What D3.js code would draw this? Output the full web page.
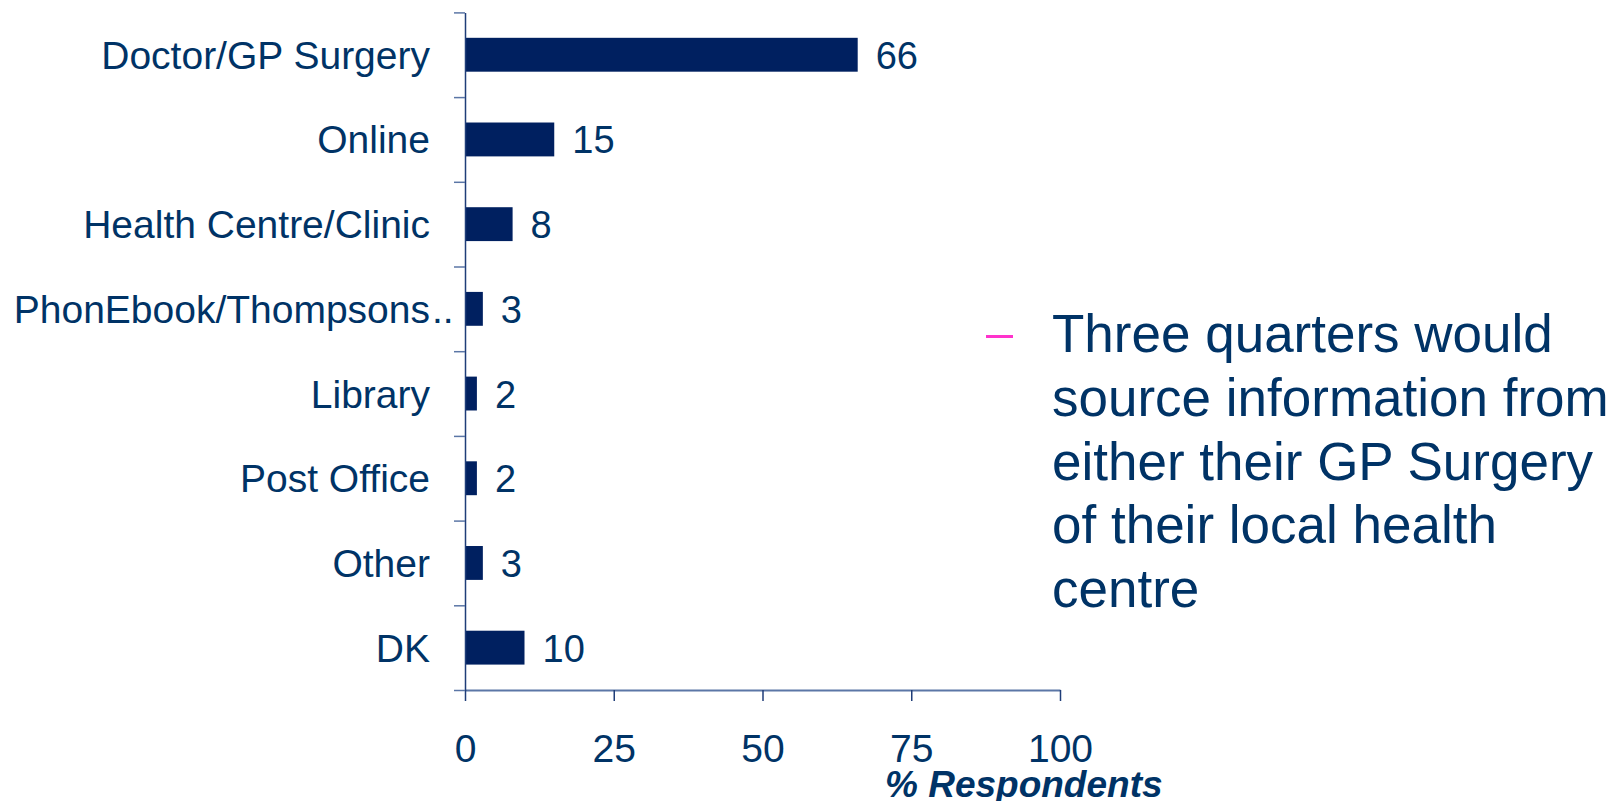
<!DOCTYPE html>
<html>
<head>
<meta charset="utf-8">
<script src="https://cdn.jsdelivr.net/npm/d3@7"></script>
<style>
  html, body { margin: 0; padding: 0; background: #ffffff; }
  svg { display: block; font-family: "Liberation Sans", Arial, sans-serif; }
</style>
</head>
<body>
<svg id="chart" width="1614" height="801"></svg>
<script>
// Where respondents would look for information (% of respondents)
const categories = [
  "Doctor/GP Surgery",
  "Online",
  "Health Centre/Clinic",
  "PhonEbook/Thompsons..",
  "Library",
  "Post Office",
  "Other",
  "DK"
];
const values = [66, 15, 8, 3, 2, 2, 3, 10];
const xTicks = [0, 25, 50, 75, 100];
const axisTitle = "% Respondents";
const noteLines = [
  "Three quarters would",
  "source information from",
  "either their GP Surgery",
  "of their local health",
  "centre"
];

const barColor = "#002060";
const textColor = "#003366";
const yAxisColor = "#1f3d78";
const xAxisColor = "#5b76a6";

const svg = d3.select("#chart");
const plotLeft = 465, plotRight = 1060, plotTop = 12.4, plotBottom = 690;

const x = d3.scaleLinear().domain([0, 100]).range([plotLeft, plotRight]);
const y = d3.scaleBand().domain(categories).range([plotTop, plotBottom]).paddingInner(0.6).paddingOuter(0.3);
// Boundaries between categories, for the y-axis tick marks
const yEdges = d3.scaleLinear().domain([0, categories.length]).range([plotTop, plotBottom]);

// Bars
svg.append("g").selectAll("rect")
  .data(categories)
  .join("rect")
  .attr("x", x(0))
  .attr("y", d => y(d))
  .attr("width", (d, i) => x(values[i]) - x(0))
  .attr("height", y.bandwidth())
  .attr("fill", barColor);

// Value labels
svg.append("g").selectAll("text")
  .data(categories)
  .join("text")
  .attr("x", (d, i) => x(values[i]) + 18)
  .attr("y", d => y(d) + y.bandwidth() / 2 + 14)
  .attr("font-size", 38)
  .attr("fill", textColor)
  .text((d, i) => values[i]);

// Category labels (a trailing ".." is set past the label's right edge)
const labelG = svg.append("g");
categories.forEach(c => {
  const cy = y(c) + y.bandwidth() / 2 + 14;
  const trunc = c.endsWith("..");
  const main = trunc ? c.slice(0, -2) : c;
  labelG.append("text")
    .attr("x", 430).attr("y", cy)
    .attr("text-anchor", "end")
    .attr("font-size", 39)
    .attr("fill", textColor)
    .text(main);
  if (trunc) {
    labelG.append("text")
      .attr("x", 432).attr("y", cy)
      .attr("font-size", 39)
      .attr("fill", textColor)
      .text("..");
  }
});

// X axis
const xAxis = svg.append("g")
  .attr("transform", `translate(0,${plotBottom})`)
  .call(d3.axisBottom(x)
    .tickValues(xTicks)
    .tickSize(11)
    .tickSizeOuter(0)
    .tickPadding(33));
xAxis.select(".domain").attr("stroke", xAxisColor).attr("stroke-width", 2);
xAxis.selectAll(".tick line").attr("stroke", yAxisColor).attr("stroke-width", 1.5);
xAxis.selectAll(".tick text")
  .attr("font-size", 39)
  .attr("font-family", "\"Liberation Sans\", Arial, sans-serif")
  .attr("fill", textColor);

// Y axis: line with ticks at the category boundaries
const yAxis = svg.append("g")
  .attr("transform", `translate(${plotLeft},0)`)
  .call(d3.axisLeft(yEdges)
    .tickValues(d3.range(categories.length + 1))
    .tickFormat("")
    .tickSize(11)
    .tickSizeOuter(0));
yAxis.select(".domain").attr("stroke", yAxisColor).attr("stroke-width", 1.5);
yAxis.selectAll(".tick line").attr("stroke", xAxisColor).attr("stroke-width", 1.5);

// Axis title
svg.append("text")
  .attr("x", 885).attr("y", 797)
  .attr("font-size", 37)
  .attr("font-weight", "bold")
  .attr("font-style", "italic")
  .attr("fill", textColor)
  .text(axisTitle);

// Side note with a pink dash bullet
svg.append("line")
  .attr("x1", 986).attr("x2", 1013)
  .attr("y1", 336.5).attr("y2", 336.5)
  .attr("stroke", "#ff33cc")
  .attr("stroke-width", 3);

svg.append("g").selectAll("text")
  .data(noteLines)
  .join("text")
  .attr("x", 1052)
  .attr("y", (d, i) => 352 + i * 63.8)
  .attr("font-size", 53)
  .attr("fill", textColor)
  .text(d => d);
</script>
</body>
</html>
